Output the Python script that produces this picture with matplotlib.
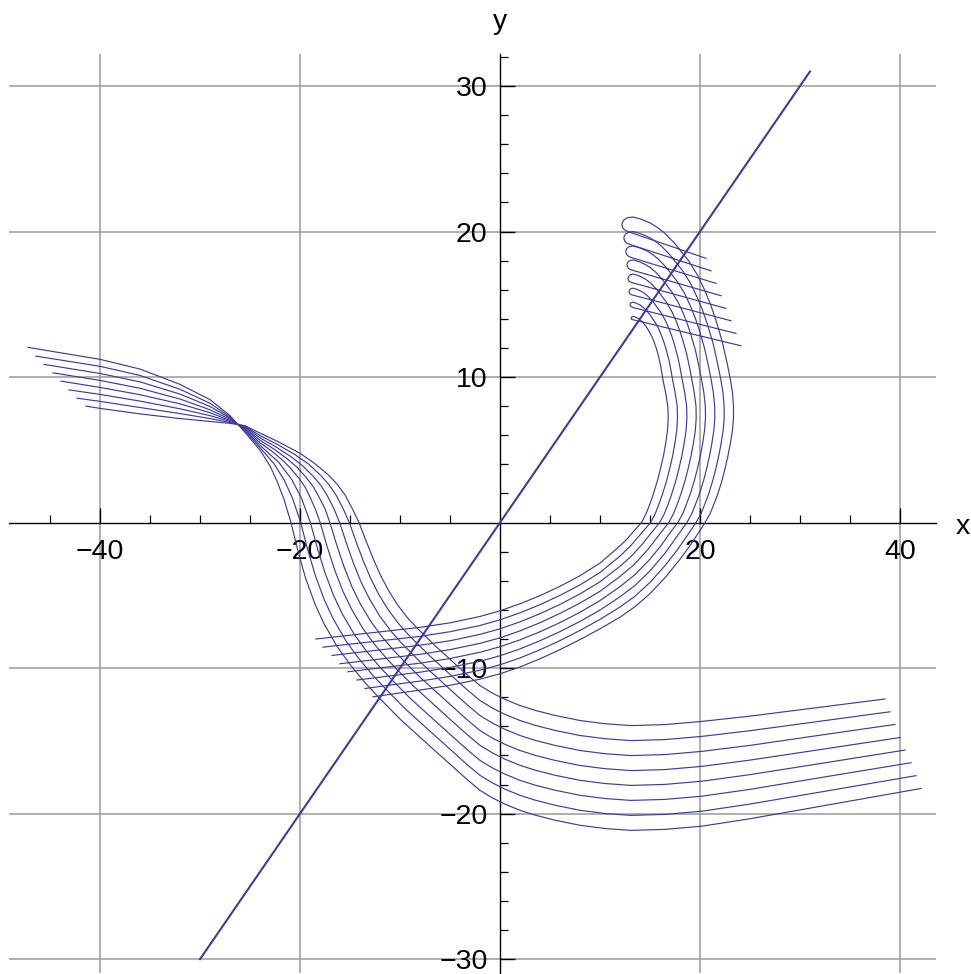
import matplotlib
matplotlib.use("Agg")
import matplotlib.pyplot as plt
from matplotlib.ticker import FixedLocator

plt.rcParams['font.family'] = ['Liberation Sans', 'DejaVu Sans']

LINE_COLOR = '#3d3d99'

# straight line y = x
diag_x = [-30, 31]
diag_y = [-30, 31]

# ================= family A (8 curves) =================
# upper part: left end, pinch, descent (x, y) points
A_HEAD = [
    [(-47.2, 12.04), (-40, 11.22), (-36, 10.55), (-32, 9.5), (-29, 8.45), (-27, 7.35), (-25.5, 6.2),
     (-24, 4.98), (-23, 3.9), (-22.3, 2.85), (-21.6, 1.6), (-20.9, 0),
     (-20.2, -1.96), (-19.45, -3.8), (-18.5, -5.6), (-17.6, -6.95), (-16.3, -8.5), (-15.0, -9.75),
     (-13.5, -11.0), (-12.0, -12.1), (-10, -13.5), (-7.03, -15.35), (-5, -16.6), (-3.3, -17.65)],
    [(-46.4, 11.44), (-40, 10.74), (-36, 10.11), (-32, 9.16), (-29, 8.2), (-27, 7.26), (-25.5, 6.3),
     (-24, 5.15), (-22.57, 4.02), (-21.57, 2.91), (-20.73, 1.64), (-19.93, 0),
     (-19.23, -1.86), (-18.48, -3.61), (-17.57, -5.31), (-16.68, -6.61), (-15.44, -8.09), (-14.18, -9.29),
     (-12.79, -10.44), (-11.39, -11.46), (-9.5, -12.78), (-6.78, -14.47), (-4.9, -15.63), (-3.3, -16.62)],
    [(-45.6, 10.87), (-40, 10.25), (-36, 9.67), (-32, 8.83), (-29, 7.98), (-27, 7.18), (-25.5, 6.38),
     (-24, 5.31), (-22.14, 4.15), (-20.84, 2.98), (-19.86, 1.69), (-18.96, 0),
     (-18.26, -1.76), (-17.52, -3.41), (-16.64, -5.01), (-15.77, -6.28), (-14.58, -7.67), (-13.37, -8.82),
     (-12.07, -9.88), (-10.77, -10.83), (-9.0, -12.06), (-6.54, -13.59), (-4.8, -14.67), (-3.3, -15.59)],
    [(-44.7, 10.29), (-40, 9.77), (-36, 9.23), (-32, 8.49), (-29, 7.75), (-27, 7.1), (-25.5, 6.45),
     (-24, 5.48), (-22.8, 4.9), (-21.71, 4.27), (-20.9, 3.7), (-20.11, 3.04), (-19.5, 2.45), (-18.98, 1.73),
     (-18.45, 0.9), (-17.98, 0),
     (-17.28, -1.66), (-16.55, -3.22), (-15.71, -4.72), (-14.85, -5.94), (-13.73, -7.26), (-12.55, -8.36),
     (-11.36, -9.33), (-10.16, -10.19), (-8.5, -11.33), (-6.29, -12.71), (-4.7, -13.7), (-3.3, -14.56)],
    [(-43.9, 9.72), (-40, 9.29), (-36, 8.79), (-32, 8.16), (-29, 7.55), (-27, 7.02), (-25.5, 6.52),
     (-24, 5.65), (-22.6, 5.05), (-21.29, 4.39), (-20.3, 3.8), (-19.39, 3.11), (-18.7, 2.5), (-18.11, 1.77),
     (-17.5, 0.95), (-17.01, 0),
     (-16.32, -1.55), (-15.6, -3.03), (-14.79, -4.43), (-13.95, -5.61), (-12.87, -6.84), (-11.75, -7.89),
     (-10.65, -8.77), (-9.54, -9.56), (-8.0, -10.62), (-6.04, -11.84), (-4.6, -12.73), (-3.3, -13.54)],
    [(-43.1, 9.12), (-40, 8.81), (-36, 8.35), (-32, 7.82), (-29, 7.35), (-27, 6.95), (-25.5, 6.58),
     (-24, 5.82), (-22.4, 5.2), (-20.86, 4.51), (-19.7, 3.88), (-18.66, 3.17), (-17.9, 2.55), (-17.24, 1.81),
     (-16.6, 0.95), (-16.04, 0),
     (-15.34, -1.45), (-14.63, -2.84), (-13.86, -4.14), (-13.03, -5.27), (-12.02, -6.43), (-10.93, -7.43),
     (-9.93, -8.22), (-8.93, -8.92), (-7.5, -9.89), (-5.79, -10.96), (-4.5, -11.77), (-3.3, -12.51)],
    [(-42.3, 8.55), (-40, 8.33), (-36, 7.91), (-32, 7.49), (-29, 7.15), (-27, 6.88), (-25.5, 6.62),
     (-24, 5.98), (-22.2, 5.35), (-20.43, 4.64), (-19.1, 4.0), (-17.93, 3.24), (-17.1, 2.6), (-16.37, 1.86),
     (-15.7, 0.98), (-15.07, 0),
     (-14.37, -1.35), (-13.67, -2.64), (-12.93, -3.84), (-12.12, -4.94), (-11.16, -6.01), (-10.12, -6.96),
     (-9.22, -7.66), (-8.31, -8.29), (-7.0, -9.17), (-5.55, -10.08), (-4.4, -10.8), (-3.3, -11.48)],
    [(-41.4, 8.0), (-40, 7.85), (-36, 7.47), (-32, 7.15), (-29, 6.95), (-27, 6.82), (-25.5, 6.66),
     (-24, 6.15), (-22, 5.5), (-20, 4.76), (-18.6, 4.1), (-17.2, 3.3), (-16.3, 2.65), (-15.5, 1.9),
     (-14.8, 1.0), (-14.1, 0),
     (-13.4, -1.25), (-12.7, -2.45), (-12.0, -3.55), (-11.2, -4.6), (-10.3, -5.6), (-9.3, -6.5),
     (-8.5, -7.1), (-7.7, -7.65), (-6.5, -8.45), (-5.3, -9.2), (-4.3, -9.83), (-3.3, -10.45)],
]
# lower part: y values at shared x stations, then the right end point
A_BOTTOM_X = [-2, -0.75, 0.5, 2, 3.5, 5.5, 8, 10.5, 13.1, 16.5, 20.2, 25, 32]
A_BOTTOM_Y = [
    [-18.4, -18.92, -19.35, -19.77, -20.1, -20.45, -20.8, -21.02, -21.15, -21.08, -20.86, -20.35, -19.5],
    [-17.37, -17.89, -18.32, -18.74, -19.07, -19.42, -19.77, -19.99, -20.12, -20.05, -19.83, -19.34, -18.52],
    [-16.34, -16.86, -17.29, -17.71, -18.04, -18.39, -18.74, -18.96, -19.09, -19.02, -18.8, -18.33, -17.53],
    [-15.31, -15.83, -16.26, -16.68, -17.01, -17.36, -17.71, -17.93, -18.06, -17.99, -17.77, -17.32, -16.56],
    [-14.29, -14.81, -15.24, -15.66, -15.99, -16.34, -16.69, -16.91, -17.04, -16.97, -16.75, -16.32, -15.6],
    [-13.26, -13.78, -14.21, -14.63, -14.96, -15.31, -15.66, -15.88, -16.01, -15.94, -15.72, -15.31, -14.61],
    [-12.23, -12.75, -13.18, -13.6, -13.93, -14.28, -14.63, -14.85, -14.98, -14.91, -14.69, -14.3, -13.65],
    [-11.2, -11.72, -12.15, -12.57, -12.9, -13.25, -13.6, -13.82, -13.95, -13.88, -13.66, -13.3, -12.69],
]
A_END = [(42.1, -18.27), (41.6, -17.39), (41.1, -16.5), (40.5, -15.63),
         (40.0, -14.77), (39.5, -13.87), (39.0, -13.0), (38.5, -12.12)]

# ================= family B (8 curves) =================
B_START = [(-18.4, -8.0), (-17.7, -8.56), (-16.8, -9.13), (-16.0, -9.7),
           (-15.2, -10.25), (-14.3, -10.82), (-13.5, -11.4), (-12.7, -11.97)]
B_LOW_X = [-8, -5, -2, 0, 2, 4, 6, 8, 10, 12]
B_LOW_Y = [
    [-7.2, -6.89, -6.45, -6.06, -5.58, -5.02, -4.38, -3.65, -2.78, -1.6],
    [-7.82, -7.5, -7.07, -6.68, -6.2, -5.64, -5.0, -4.28, -3.43, -2.3],
    [-8.43, -8.12, -7.68, -7.3, -6.82, -6.26, -5.62, -4.9, -4.07, -3.0],
    [-9.05, -8.73, -8.3, -7.92, -7.44, -6.88, -6.24, -5.53, -4.72, -3.7],
    [-9.66, -9.34, -8.91, -8.53, -8.06, -7.5, -6.87, -6.16, -5.36, -4.4],
    [-10.28, -9.95, -9.53, -9.15, -8.68, -8.12, -7.49, -6.79, -6.01, -5.1],
    [-10.89, -10.57, -10.14, -9.77, -9.3, -8.74, -8.11, -7.41, -6.65, -5.8],
    [-11.51, -11.18, -10.76, -10.39, -9.92, -9.36, -8.73, -8.04, -7.3, -6.5],
]
B_TURN = [
    [(12.7, -1.13)],
    [(13.1, -1.57)],
    [(13.1, -2.33), (14.2, -1.51)],
    [(13.4, -2.89), (14.8, -1.84)],
    [(13.5, -3.58), (15.0, -2.51), (16.1, -1.58)],
    [(13.5, -4.32), (15.0, -3.32), (16.5, -2.1)],
    [(13.5, -5.06), (15.0, -4.11), (16.5, -2.96), (17.8, -1.81)],
    [(13.5, -5.78), (15.0, -4.88), (16.5, -3.79), (18.0, -2.52), (19.0, -1.58)],
]
B_ARC_Y = [-0.65, 0, 0.6, 1.2, 2.0, 2.9, 3.7, 4.6, 5.5, 6.36, 7.2, 8.0, 8.9, 9.8]
B_ARC_X = [
    [13.3, 14.15, 14.6, 14.95, 15.35, 15.75, 16.05, 16.35, 16.58, 16.75, 16.82, 16.78, 16.57, 16.3],
    [14.24, 15.06, 15.51, 15.86, 16.27, 16.67, 16.97, 17.27, 17.5, 17.68, 17.75, 17.72, 17.52, 17.26],
    [15.19, 15.96, 16.43, 16.78, 17.19, 17.59, 17.89, 18.19, 18.43, 18.61, 18.69, 18.66, 18.48, 18.23],
    [16.13, 16.87, 17.34, 17.69, 18.11, 18.51, 18.81, 19.11, 19.35, 19.54, 19.62, 19.6, 19.43, 19.19],
    [17.07, 17.78, 18.26, 18.61, 19.04, 19.44, 19.74, 20.04, 20.28, 20.46, 20.55, 20.53, 20.39, 20.16],
    [18.01, 18.69, 19.17, 19.52, 19.96, 20.36, 20.66, 20.96, 21.2, 21.39, 21.48, 21.47, 21.34, 21.12],
    [18.96, 19.59, 20.09, 20.44, 20.88, 21.28, 21.58, 21.88, 22.13, 22.32, 22.42, 22.41, 22.3, 22.09],
    [19.9, 20.5, 21.0, 21.35, 21.8, 22.2, 22.5, 22.8, 23.05, 23.25, 23.35, 23.35, 23.25, 23.05],
]
B_TOP = [
    [(16.19, 10.27), (16.04, 10.85), (15.85, 11.44), (15.7, 11.83), (15.51, 12.22), (15.3, 12.61), (15.03, 13.0),
     (14.61, 13.47), (14.3, 13.74), (14.08, 13.9), (13.86, 14.01), (13.59, 14.11), (13.35, 14.17), (13.18, 14.13),
     (13.1, 14.05), (13.15, 13.97), (13.35, 13.93), (24.1, 12.15)],
    [(17.12, 10.37), (16.92, 11.09), (16.65, 11.81), (16.45, 12.28), (16.2, 12.76), (15.92, 13.24), (15.55, 13.72),
     (14.99, 14.29), (14.58, 14.63), (14.27, 14.82), (13.99, 14.96), (13.62, 15.08), (13.3, 15.15), (13.12, 15.11),
     (13.02, 15.03), (13.0, 14.94), (13.07, 14.85), (13.35, 14.77), (23.6, 13.0)],
    [(18.05, 10.48), (17.8, 11.32), (17.47, 12.17), (17.22, 12.73), (16.91, 13.3), (16.56, 13.86), (16.11, 14.42),
     (15.4, 15.09), (14.89, 15.49), (14.51, 15.72), (14.16, 15.88), (13.7, 16.03), (13.3, 16.11), (13.08, 16.07),
     (12.95, 15.98), (12.9, 15.86), (12.97, 15.74), (13.1, 15.67), (13.35, 15.62), (23.1, 13.87)],
    [(18.98, 10.58), (18.68, 11.55), (18.28, 12.53), (17.98, 13.18), (17.62, 13.83), (17.2, 14.48), (16.65, 15.13),
     (15.81, 15.91), (15.2, 16.37), (14.75, 16.63), (14.32, 16.82), (13.78, 16.99), (13.3, 17.08), (13.05, 17.03),
     (12.88, 16.93), (12.8, 16.79), (12.85, 16.64), (12.98, 16.55), (13.3, 16.47), (22.6, 14.72)],
    [(19.91, 10.68), (19.56, 11.79), (19.1, 12.89), (18.75, 13.63), (18.33, 14.37), (17.84, 15.1), (17.2, 15.84),
     (16.22, 16.72), (15.52, 17.24), (14.99, 17.54), (14.49, 17.75), (13.86, 17.94), (13.3, 18.05), (12.98, 18.0),
     (12.78, 17.89), (12.7, 17.74), (12.73, 17.59), (12.85, 17.46), (13.25, 17.34), (22.1, 15.59)],
    [(20.84, 10.79), (20.44, 12.02), (19.92, 13.25), (19.52, 14.07), (19.03, 14.9), (18.48, 15.72), (17.75, 16.54),
     (16.63, 17.53), (15.83, 18.11), (15.22, 18.44), (14.66, 18.68), (13.94, 18.89), (13.3, 19.01), (12.9, 18.96),
     (12.68, 18.84), (12.58, 18.68), (12.6, 18.52), (12.72, 18.38), (12.9, 18.28), (13.2, 18.2), (21.6, 16.44)],
    [(21.77, 10.89), (21.33, 12.26), (20.74, 13.63), (20.29, 14.53), (19.74, 15.45), (19.12, 16.36), (18.3, 17.27),
     (17.04, 18.36), (16.14, 19.0), (15.46, 19.37), (14.83, 19.63), (14.02, 19.87), (13.3, 20.0), (12.85, 19.95),
     (12.55, 19.82), (12.4, 19.65), (12.4, 19.48), (12.5, 19.32), (12.7, 19.2), (13.1, 19.09), (21.1, 17.3)],
    [(22.7, 11.0), (22.2, 12.5), (21.55, 14.0), (21.05, 15.0), (20.45, 16.0), (19.75, 17.0), (18.85, 18.0),
     (17.45, 19.2), (16.45, 19.9), (15.7, 20.3), (15.0, 20.6), (14.1, 20.85), (13.3, 21.0), (12.75, 20.95),
     (12.4, 20.8), (12.22, 20.6), (12.2, 20.42), (12.3, 20.22), (12.55, 20.07), (13.0, 19.95), (20.6, 18.16)],
]

x_major = [-40, -20, 20, 40]
y_major = [-30, -20, -10, 10, 20, 30]
x_minor = [-45, -35, -30, -25, -15, -10, -5, 5, 10, 15, 25, 30, 35]
y_minor = [v for v in range(-30, 33, 2) if v % 10 != 0]

fig = plt.figure(figsize=(9.71, 9.74), dpi=100)
ax = fig.add_axes([9.3 / 971, 1 / 974, (935.5 - 9.3) / 971, (973 - 54) / 974])
ax.set_xlim(-49.07, 43.55)
ax.set_ylim(-30.95, 32.2)

for v in x_major:
    ax.axvline(v, color='#9a9a9a', lw=1.1, zorder=0)
for v in y_major:
    ax.axhline(v, color='#9a9a9a', lw=1.1, zorder=0)

curves = []
for head, ys, end in zip(A_HEAD, A_BOTTOM_Y, A_END):
    curves.append(list(head) + list(zip(A_BOTTOM_X, ys)) + [end])
for start, lys, turn, axs, top in zip(B_START, B_LOW_Y, B_TURN, B_ARC_X, B_TOP):
    curves.append([start] + list(zip(B_LOW_X, lys)) + list(turn) + list(zip(axs, B_ARC_Y)) + list(top))

for curve in curves:
    xs = [p[0] for p in curve]
    ys = [p[1] for p in curve]
    ax.plot(xs, ys, color=LINE_COLOR, lw=0.85, solid_joinstyle='round', zorder=3)
ax.plot(diag_x, diag_y, color=LINE_COLOR, lw=1.5, zorder=4)

for s in ['top', 'right']:
    ax.spines[s].set_visible(False)
ax.spines['left'].set_position(('data', 0))
ax.spines['bottom'].set_position(('data', 0))
ax.spines['left'].set_linewidth(1.0)
ax.spines['bottom'].set_linewidth(1.0)
ax.spines['left'].set_zorder(2)
ax.spines['bottom'].set_zorder(2)

ax.xaxis.set_major_locator(FixedLocator(x_major))
ax.xaxis.set_minor_locator(FixedLocator(x_minor))
ax.yaxis.set_major_locator(FixedLocator(y_major))
ax.yaxis.set_minor_locator(FixedLocator(y_minor))
ax.set_xticklabels(['\u2212' + str(abs(v)) if v < 0 else str(v) for v in x_major])
ax.set_yticklabels(['\u2212' + str(abs(v)) if v < 0 else str(v) for v in y_major])
ax.tick_params(axis='x', which='major', direction='in', length=11, width=1.0, labelsize=20.5, pad=12)
ax.tick_params(axis='x', which='minor', direction='in', length=6, width=0.9)
ax.tick_params(axis='y', which='major', direction='in', length=11, width=1.0, labelsize=20.5, pad=9)
ax.tick_params(axis='y', which='minor', direction='in', length=6, width=0.9)

fig.text(963 / 971, 1 - 527 / 974, 'x', fontsize=20.5, ha='center', va='center')
fig.text(500 / 971, 1 - 22 / 974, 'y', fontsize=20.5, ha='center', va='center')

fig.savefig('out.png', dpi=100)
